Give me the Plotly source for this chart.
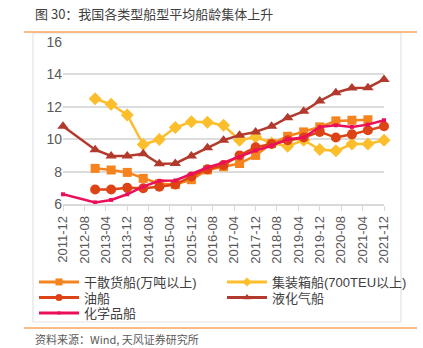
import plotly.graph_objects as go

dates = ["2011-12", "2012-12", "2013-06", "2013-12", "2014-06", "2014-12", "2015-06",
         "2015-12", "2016-06", "2016-12", "2017-06", "2017-12", "2018-06", "2018-12",
         "2019-06", "2019-12", "2020-06", "2020-12", "2021-06", "2021-12"]

bulk = [None, 8.2, 8.1, 7.95, 7.58, 7.25, 7.2, 7.5, 8.1, 8.3, 8.5, 9.0, 9.73, 10.18,
        10.45, 10.76, 11.13, 11.17, 11.2, None]
container = [None, 12.5, 12.15, 11.5, 9.67, 9.98, 10.72, 11.07, 11.05, 10.86, 9.94, 10.14,
             9.77, 9.57, 9.94, 9.36, 9.28, 9.7, 9.7, 9.94]
oil = [None, 6.9, 6.9, 7.0, 6.97, 7.07, 7.2, 7.7, 8.15, 8.4, 9.0, 9.5, 9.7, 9.94,
       10.1, 10.45, 10.1, 10.3, 10.55, 10.8]
lpg = [10.8, 9.35, 8.97, 8.97, 9.1, 8.48, 8.5, 8.97, 9.47, 9.94, 10.25, 10.45, 10.8, 11.33,
       11.72, 12.36, 12.87, 13.16, 13.18, 13.69]
chem = [6.6, 6.1, 6.25, 6.6, 7.07, 7.43, 7.45, 7.85, 8.25, 8.55, 8.9, 9.3, 9.6, 10.0,
        10.1, 10.75, 10.86, 10.76, 10.9, 11.17]

tick_labels = ["2011-12", "2012-08", "2013-04", "2013-12", "2014-08", "2015-04", "2015-12",
               "2016-08", "2017-04", "2017-12", "2018-08", "2019-04", "2019-12", "2020-08",
               "2021-04", "2021-12"]
y_ticks = [6, 8, 10, 12, 14, 16]

names = ["干散货船(万吨以上)", "集装箱船(700TEU以上)", "油船", "液化气船", "化学品船"]
title_text = "图 30：我国各类型船型平均船龄集体上升"
source_text = "资料来源：Wind, 天风证券研究所"

W, H = 423, 348
L, R, T, B = 63, 39, 42, 144
pw, ph = W - L - R, H - T - B

def px(x):
    return (x - L) / pw

def py(y):
    return (H - B - y) / ph

FONT = "Liberation Sans, Noto Sans CJK SC, sans-serif"

xd = [d + "-01" for d in dates]
xt = [d + "-01" for d in tick_labels]

series = [
    (bulk, names[0], "#F5841F", "square", 9, 7, "legend"),
    (container, names[1], "#FDBE2C", "diamond", 10, 7, "legend"),
    (oil, names[2], "#DE4316", "circle", 10, 7, "legend2"),
    (lpg, names[3], "#B23A2C", "triangle-up", 10, 7, "legend2"),
    (chem, names[4], "#EB0F5A", "square", 4, 3, "legend3"),
]

fig = go.Figure()
for vals, name, color, sym, size, lsize, lg in series:
    fig.add_trace(go.Scatter(
        x=xd, y=vals, name=name, mode="lines+markers", showlegend=False,
        line=dict(color=color, width=2.5),
        marker=dict(symbol=sym, size=size, color=color),
        cliponaxis=False, connectgaps=False,
    ))
for vals, name, color, sym, size, lsize, lg in series:
    fig.add_trace(go.Scatter(
        x=[None], y=[None], name=name, mode="lines+markers", legend=lg,
        line=dict(color=color, width=3),
        marker=dict(symbol=sym, size=lsize, color=color),
    ))

def leg(yc):
    return dict(
        orientation="h", x=px(34), y=py(yc), xanchor="left", yanchor="middle",
        entrywidth=133, entrywidthmode="pixels", tracegroupgap=0,
        font=dict(size=13, color="#404040"), itemwidth=40,
        bgcolor="rgba(0,0,0,0)",
    )

fig.update_layout(
    width=W, height=H,
    margin=dict(l=L, r=R, t=T, b=B, autoexpand=False),
    paper_bgcolor="white", plot_bgcolor="white",
    font=dict(family=FONT, color="#595959", size=13),
    showlegend=True,
    legend=leg(282), legend2=leg(297.5), legend3=leg(313),
    xaxis=dict(
        type="date", range=[xd[0], xd[-1]],
        tickvals=xt, ticktext=tick_labels, tickangle=-90,
        showgrid=False, showline=True, linecolor="#d9d9d9", linewidth=1.5,
        ticks="outside", ticklen=5, tickcolor="#d9d9d9",
        tickfont=dict(size=13, color="#595959"), zeroline=False,
    ),
    yaxis=dict(
        range=[6, 16], tickvals=y_ticks, showgrid=True, gridcolor="#dcdcdc", gridwidth=1.5,
        zeroline=False, showline=False, ticks="", ticklen=0,
        tickfont=dict(size=14, color="#595959"),
    ),
)

shapes = [
    dict(type="rect", xref="paper", yref="paper", x0=px(33), x1=px(401), y0=py(322), y1=py(33),
         line=dict(color="#e3e3e3", width=1.2), fillcolor="rgba(0,0,0,0)", layer="below"),
    dict(type="line", xref="paper", yref="paper", x0=px(24), x1=px(417), y0=py(32), y1=py(32),
         line=dict(color="#F4A460", width=1.5)),
    dict(type="line", xref="paper", yref="paper", x0=px(24), x1=px(417), y0=py(328), y1=py(328),
         line=dict(color="#F4A460", width=1.5)),
]
fig.update_layout(shapes=shapes)

fig.add_annotation(text=title_text, xref="paper", yref="paper", x=px(33), y=py(14),
                   xanchor="left", yanchor="middle", showarrow=False,
                   font=dict(size=13, color="#404040", family="Noto Sans CJK SC, sans-serif"))
fig.add_annotation(text=source_text, xref="paper", yref="paper", x=px(33), y=py(339),
                   xanchor="left", yanchor="middle", showarrow=False,
                   font=dict(size=11, color="#595959", family="Noto Sans CJK SC, sans-serif"))

fig.write_html("out.html")
